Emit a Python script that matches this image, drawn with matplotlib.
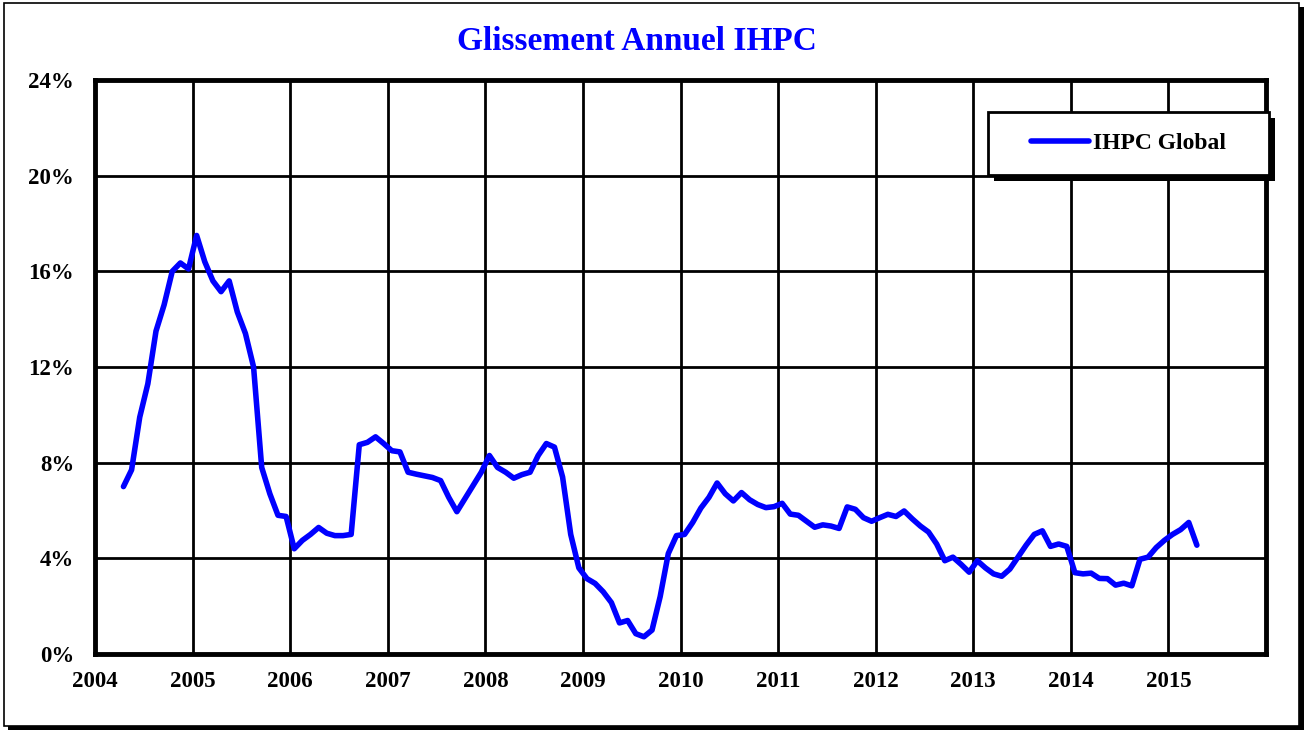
#!/usr/bin/env python3
import matplotlib
matplotlib.use("Agg")
import matplotlib.pyplot as plt
from matplotlib.patches import Rectangle
import numpy as np

# Monthly year-on-year HICP inflation (%), April 2004 to April 2015
start_year, start_month = 2004, 4
ihpc_global = [
    # 2004 (Apr-Dec)
    7.0, 7.7, 9.9, 11.3, 13.5, 14.6, 16.0, 16.35, 16.1,
    # 2005
    17.5, 16.4, 15.6, 15.15, 15.6, 14.3, 13.4, 12.0, 7.8, 6.7, 5.8, 5.75,
    # 2006
    4.4, 4.75, 5.0, 5.29, 5.05, 4.95, 4.95, 5.0, 8.75, 8.85, 9.08, 8.8,
    # 2007
    8.5, 8.45, 7.6, 7.52, 7.45, 7.38, 7.25, 6.55, 5.95, 6.5, 7.05, 7.6,
    # 2008
    8.3, 7.8, 7.6, 7.35, 7.5, 7.6, 8.3, 8.8, 8.65, 7.4, 5.0, 3.6,
    # 2009
    3.15, 2.95, 2.6, 2.15, 1.3, 1.4, 0.85, 0.72, 1.0, 2.4, 4.2, 4.95,
    # 2010
    5.0, 5.5, 6.1, 6.55, 7.15, 6.7, 6.4, 6.75, 6.45, 6.25, 6.12, 6.16,
    # 2011
    6.3, 5.85, 5.8, 5.55, 5.3, 5.4, 5.35, 5.25, 6.15, 6.05, 5.7, 5.55,
    # 2012
    5.7, 5.84, 5.75, 5.98, 5.65, 5.35, 5.1, 4.6, 3.9, 4.05, 3.75, 3.42,
    # 2013
    3.9, 3.6, 3.35, 3.25, 3.55, 4.05, 4.55, 5.0, 5.15, 4.5, 4.6, 4.5,
    # 2014
    3.4, 3.35, 3.38, 3.16, 3.15, 2.88, 2.96, 2.85, 3.96, 4.05, 4.45, 4.75,
    # 2015 (Jan-Apr)
    5.0, 5.2, 5.5, 4.55,
]
year_ticks = list(range(2004, 2017))
year_labels = [str(y) for y in range(2004, 2016)] + [""]
pct_ticks = list(range(0, 25, 4))

# mid-month positions in decimal years
months = np.arange(len(ihpc_global))
dates = start_year + (start_month - 1 + months + 0.5) / 12.0

W, H = 1307, 731
plt.rcParams["font.family"] = ["Liberation Serif", "DejaVu Serif"]
fig = plt.figure(figsize=(W / 100, H / 100), dpi=100)


def px_rect(x0, y0, x1, y1, **kw):
    # rectangle given in pixel coords (origin top-left)
    return Rectangle((x0 / W, 1 - y1 / H), (x1 - x0) / W, (y1 - y0) / H,
                     transform=fig.transFigure, **kw)


# outer frame with shadow
fig.patches.append(px_rect(8, 7, 1304, 730, facecolor="black", edgecolor="none", zorder=0))
fig.patches.append(px_rect(4, 3, 1299, 726, facecolor="white", edgecolor="black",
                           linewidth=1.2, zorder=0.5))

ax = fig.add_axes([95 / W, 1 - 654 / H, (1266 - 95) / W, (654 - 80) / H])
ax.set_zorder(1)
ax.patch.set_alpha(0)

ax.plot(dates, ihpc_global, color="#0000ff", linewidth=4.0,
        solid_capstyle="round", solid_joinstyle="round", zorder=3,
        label="IHPC Global")

ax.set_xlim(2004, 2016)
ax.set_ylim(0, 24)
ax.set_xticks(year_ticks)
ax.set_xticklabels(year_labels)
ax.set_yticks(pct_ticks)
ax.set_yticklabels([f"{v}%" for v in pct_ticks])
ax.grid(True, color="black", linewidth=2.0)
ax.set_axisbelow(True)
for s in ax.spines.values():
    s.set_linewidth(3.5)
    s.set_color("black")
ax.tick_params(length=0, labelsize=16.5)
ax.tick_params(axis="y", pad=15)
ax.tick_params(axis="x", pad=12)
for lab in ax.get_xticklabels() + ax.get_yticklabels():
    lab.set_fontweight("bold")

fig.text(637 / W, 1 - 41 / H, "Glissement Annuel IHPC", color="#0000ff",
         fontsize=24, fontweight="bold", ha="center", va="center")

# legend box with black shadow
ax.add_patch(px_rect(994, 118, 1275, 181, facecolor="black", edgecolor="none",
                     zorder=4, clip_on=False))
ax.add_patch(px_rect(988, 112, 1269, 175, facecolor="white", edgecolor="black",
                     linewidth=2.0, zorder=4.1, clip_on=False))
leg = ax.legend(loc="center", bbox_to_anchor=((988 + 1269) / 2 / W, 1 - 143.5 / H),
                bbox_transform=fig.transFigure, frameon=False,
                prop={"size": 17, "weight": "bold"}, handlelength=2.45,
                handletextpad=0.15)
leg.set_zorder(5)

fig.savefig("out.png", dpi=100)
